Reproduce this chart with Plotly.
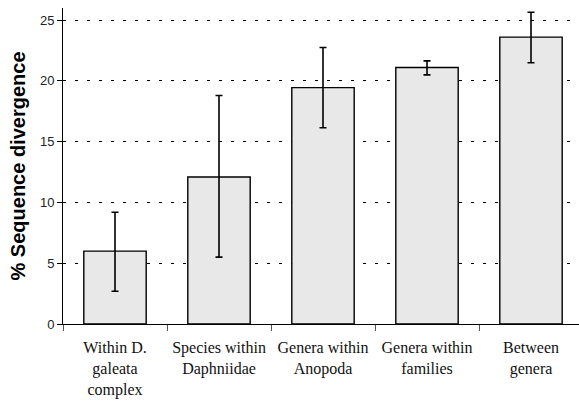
import plotly.graph_objects as go

categories = ["Within D.<br>galeata<br>complex", "Species within<br>Daphniidae",
              "Genera within<br>Anopoda", "Genera within<br>families", "Between<br>genera"]
means = [6.0, 12.1, 19.45, 21.1, 23.6]
err_high = [9.2, 18.8, 22.75, 21.65, 25.65]
err_low = [2.7, 5.5, 16.15, 20.5, 21.5]
y_ticks = [0, 5, 10, 15, 20, 25]

err_plus = [h - m for h, m in zip(err_high, means)]
err_minus = [m - l for m, l in zip(means, err_low)]

fig = go.Figure()
fig.add_trace(go.Bar(
    x=categories, y=means, width=0.6,
    marker=dict(color="#e8e8e8", line=dict(color="black", width=1.4)),
    error_y=dict(type="data", symmetric=False, array=err_plus, arrayminus=err_minus,
                 color="black", thickness=1.6, width=3.5),
))

fig.update_layout(
    width=579, height=403,
    margin=dict(l=63, r=0, t=8, b=79),
    paper_bgcolor="white", plot_bgcolor="white",
    showlegend=False,
    xaxis=dict(
        range=[-0.5, 4.4615], type="category",
        showline=True, linecolor="black", linewidth=1,
        ticks="outside", tickson="boundaries", ticklen=6, tickcolor="#555", tickwidth=1,
        showgrid=False, ticklabelstandoff=9,
        tickfont=dict(family="Liberation Serif", size=16, color="#111"),
    ),
    yaxis=dict(
        range=[0, 26], tickvals=y_ticks,
        showline=True, linecolor="black", linewidth=1,
        ticks="outside", ticklen=5, tickcolor="black",
        showgrid=True, gridcolor="black", gridwidth=1, griddash="3px,9px",
        zeroline=False,
        tickfont=dict(family="Liberation Sans", size=13, color="#222"),
        title=dict(text="<b>% Sequence divergence</b>",
                   font=dict(family="Liberation Sans", size=20, color="black"),
                   standoff=8),
    ),
)

fig.write_html("out.html")
